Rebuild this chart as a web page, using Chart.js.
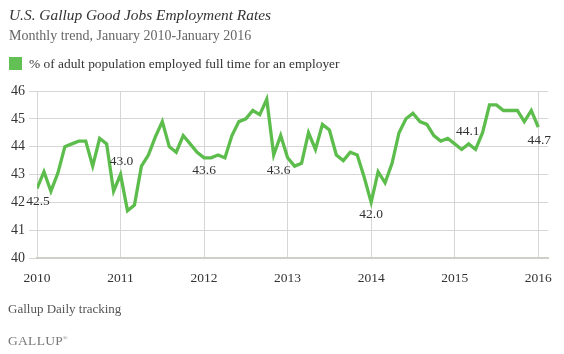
<!DOCTYPE html>
<html>
<head>
    <title>U.S. Gallup Good Jobs Employment Rates</title>
    <script src="https://cdn.jsdelivr.net/npm/chart.js"></script>
    <style>
        body { margin: 0; background: #fff; font-family: "Liberation Serif", serif; }
        #wrap { position: relative; width: 564px; height: 354px; overflow: hidden; }
        canvas { position: absolute; left: 0; top: 0; }
        .txt { position: absolute; white-space: nowrap; }
        #title { left: 9px; top: 6px; font-size: 15.4px; font-style: italic; color: #333; }
        #sub { left: 9px; top: 28px; font-size: 14px; color: #666; }
        #legend { left: 9px; top: 56px; font-size: 13.4px; color: #333; }
        #legend span { display: inline-block; width: 13px; height: 13px; background: #62c055; vertical-align: -2px; margin-right: 7px; }
        #source { left: 8px; top: 301px; font-size: 13px; color: #555; }
        #logo { left: 8px; top: 333px; font-size: 13.5px; color: #777; letter-spacing: 0.3px; }
        #logo sup { font-size: 6px; }
    </style>
</head>
<body>
<div id="wrap">
    <canvas id="chart" width="564" height="354"></canvas>
    <div class="txt" id="title">U.S. Gallup Good Jobs Employment Rates</div>
    <div class="txt" id="sub">Monthly trend, January 2010-January 2016</div>
    <div class="txt" id="legend"><span></span>% of adult population employed full time for an employer</div>
    <div class="txt" id="source">Gallup Daily tracking</div>
    <div class="txt" id="logo">GALLUP<sup>&reg;</sup></div>
</div>

<script>
    // Monthly values, Jan 2010 .. Jan 2016
    const years = ['2010', '2011', '2012', '2013', '2014', '2015', '2016'];
    const rates = [
        42.5, 43.1, 42.4, 43.05, 44.0, 44.1, 44.2, 44.2, 43.3, 44.3, 44.1, 42.4,
        43.0, 41.7, 41.9, 43.3, 43.7, 44.35, 44.9, 44.0, 43.8, 44.4, 44.1, 43.8,
        43.6, 43.6, 43.7, 43.6, 44.4, 44.9, 45.0, 45.3, 45.15, 45.7, 43.7, 44.4,
        43.6, 43.3, 43.4, 44.5, 43.9, 44.8, 44.6, 43.7, 43.5, 43.8, 43.7, 42.9,
        42.0, 43.1, 42.7, 43.4, 44.5, 45.0, 45.2, 44.9, 44.8, 44.4, 44.2, 44.3,
        44.1, 43.9, 44.1, 43.9, 44.5, 45.5, 45.5, 45.3, 45.3, 45.3, 44.9, 45.3,
        44.7
    ];
    // which points get a value label
    const labelled = [0, 12, 24, 36, 48, 60, 72];

    const points = rates.map((v, i) => ({ x: i, y: v }));

    // label placement (pixel offsets from the point)
    const labelOffsets = {
        0: [1, 13], 12: [1, -13], 24: [0, 13], 36: [-9, 13],
        48: [0, 12], 60: [13, -12], 72: [1, 13]
    };

    const valueLabels = {
        id: 'valueLabels',
        afterDatasetsDraw(chart) {
            const ctx = chart.ctx;
            const meta = chart.getDatasetMeta(0);
            ctx.save();
            ctx.font = '13.5px "Liberation Serif", serif';
            ctx.fillStyle = '#333';
            ctx.textAlign = 'center';
            ctx.textBaseline = 'middle';
            labelled.forEach(i => {
                const pt = meta.data[i];
                const off = labelOffsets[i];
                ctx.fillText(rates[i].toFixed(1), pt.x + off[0], pt.y + off[1]);
            });
            ctx.restore();
        }
    };

    const chart = new Chart(document.getElementById('chart'), {
        type: 'line',
        data: {
            datasets: [{
                label: '% of adult population employed full time for an employer',
                data: points,
                borderColor: '#5dbd4c',
                borderWidth: 3.3,
                pointRadius: 0,
                tension: 0,
                fill: false
            }]
        },
        options: {
            responsive: false,
            animation: false,
            layout: { padding: { left: 0, right: 13, top: 91, bottom: 66 } },
            plugins: {
                legend: { display: false },
                tooltip: { enabled: false }
            },
            scales: {
                x: {
                    type: 'linear',
                    min: 0,
                    max: 73.43,
                    afterBuildTicks: s => { s.ticks = years.map((y, i) => ({ value: i * 12 })); },
                    afterFit: s => { s.height = 30; },
                    ticks: {
                        padding: 12,
                        color: '#333',
                        font: { family: '"Liberation Serif", serif', size: 13.5 },
                        callback: v => years[v / 12],
                        maxRotation: 0
                    },
                    grid: { color: '#d6d6d6', lineWidth: 1, drawTicks: false },
                    border: { display: true, color: '#cfcfc9', width: 2 }
                },
                y: {
                    min: 40,
                    max: 46,
                    afterFit: s => { s.width = 37; },
                    ticks: {
                        stepSize: 1,
                        padding: 4,
                        color: '#333',
                        font: { family: '"Liberation Serif", serif', size: 14 }
                    },
                    grid: { color: '#d6d6d6', lineWidth: 1, tickLength: 8 },
                    border: { display: false }
                }
            }
        },
        plugins: [valueLabels]
    });
</script>
</body>
</html>
